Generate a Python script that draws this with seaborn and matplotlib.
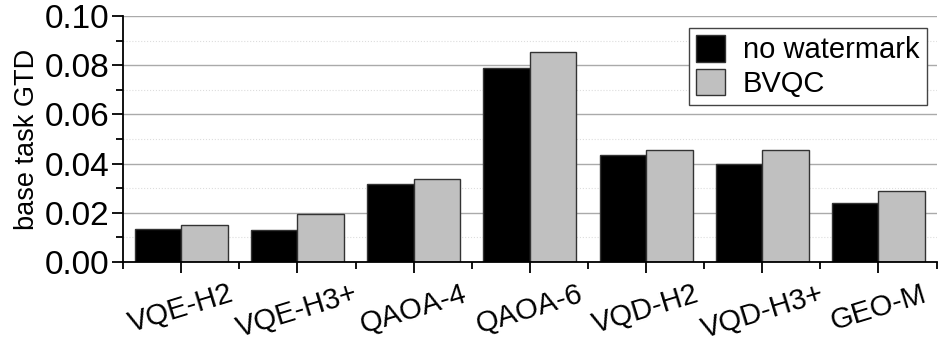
import pandas as pd
import matplotlib.pyplot as plt
import seaborn as sns
from matplotlib.ticker import MultipleLocator

# valores
tasks = ["VQE-H2", "VQE-H3+", "QAOA-4", "QAOA-6", "VQD-H2", "VQD-H3+", "GEO-M"]
no_watermark = [0.0133, 0.0130, 0.0315, 0.0789, 0.0436, 0.0398, 0.0239]
bvqc = [0.0148, 0.0193, 0.0336, 0.0856, 0.0456, 0.0454, 0.0288]

df = pd.DataFrame({
    "task": tasks * 2,
    "gtd": no_watermark + bvqc,
    "method": ["no watermark"] * len(tasks) + ["BVQC"] * len(tasks),
})

sns.set_style("white")
plt.rcParams["font.family"] = ["Liberation Sans", "DejaVu Sans"]
plt.rcParams["text.color"] = "black"
plt.rcParams["axes.labelcolor"] = "black"
plt.rcParams["xtick.color"] = "black"
plt.rcParams["ytick.color"] = "black"

fig = plt.figure(figsize=(9.47, 3.44), dpi=100)
ax = fig.add_axes([0.130, 0.239, 0.859, 0.714])

sns.barplot(
    data=df, x="task", y="gtd", hue="method",
    palette=["#000000", "#c0c0c0"], width=0.8,
    edgecolor="#333333", linewidth=1.0, saturation=1, ax=ax,
)

ax.set_xlim(-0.5, 6.5)
ax.set_ylim(0, 0.10)
ax.yaxis.set_major_locator(MultipleLocator(0.02))
ax.yaxis.set_minor_locator(MultipleLocator(0.01))
ax.xaxis.set_minor_locator(MultipleLocator(1, offset=0.5))
ax.set_yticks([0, 0.02, 0.04, 0.06, 0.08, 0.10])
ax.set_yticklabels(["0.00", "0.02", "0.04", "0.06", "0.08", "0.10"])

ax.grid(axis="y", which="major", color="#aaaaaa", linewidth=1.0)
ax.grid(axis="y", which="minor", color="#dddddd", linewidth=0.8, linestyle=":")
ax.set_axisbelow(True)

for s in ["top", "right"]:
    ax.spines[s].set_visible(False)
for s in ["left", "bottom"]:
    ax.spines[s].set_color("black")
    ax.spines[s].set_linewidth(1.3)

ax.tick_params(axis="both", which="major", direction="out", length=8, width=1.3,
               color="black", bottom=True, left=True)
ax.tick_params(axis="both", which="minor", direction="out", length=5, width=1.3,
               color="black", bottom=True, left=True)
ax.tick_params(axis="y", labelsize=24, pad=2, labelcolor="black")
ax.tick_params(axis="x", labelsize=21, pad=5, labelcolor="black")
plt.setp(ax.get_xticklabels(), rotation=17, ha="center")

ax.set_xlabel("")
ax.set_ylabel("base task GTD", fontsize=19.5, labelpad=3, color="black")

leg = ax.legend(
    loc="upper right", bbox_to_anchor=(0.995, 0.975), fontsize=21,
    frameon=True, fancybox=False, edgecolor="#444444", framealpha=1,
    handlelength=1.0, handleheight=1.0, handletextpad=0.6,
    borderpad=0.25, labelspacing=0.15, borderaxespad=0.2, title=None,
)
for t in leg.get_texts():
    t.set_color("black")

plt.savefig("out.png", dpi=100)
